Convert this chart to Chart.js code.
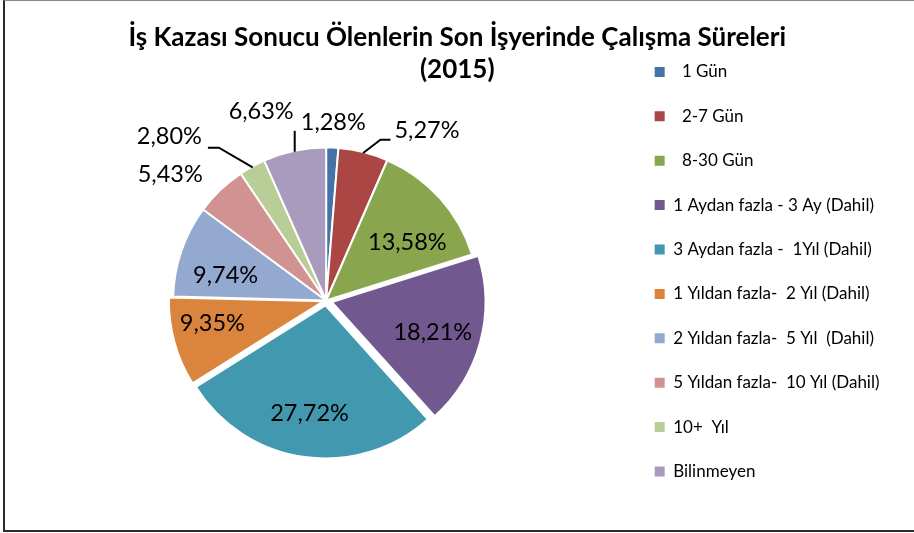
<!DOCTYPE html>
<html>
<head>
<meta charset="utf-8">
<script src="https://cdn.jsdelivr.net/npm/chart.js@4"></script>
<style>
html, body { margin: 0; padding: 0; background: #fff; overflow: hidden; }
#marco { position: absolute; left: 3px; top: 0; width: 940px; height: 529px;
         border: 2px solid #2b2b2b; border-top: 1px solid #8a8a8a; }
canvas { position: absolute; left: 0; top: 0; }
</style>
</head>
<body>
<div id="marco"></div>
<canvas id="chart" width="914" height="533"></canvas>
<script>
const categorias = [
    '  1 Gün',
    '  2-7 Gün',
    '  8-30 Gün',
    '1 Aydan fazla - 3 Ay (Dahil)',
    '3 Aydan fazla -  1Yıl (Dahil)',
    '1 Yıldan fazla-  2 Yıl (Dahil)',
    '2 Yıldan fazla-  5 Yıl  (Dahil)',
    '5 Yıldan fazla-  10 Yıl (Dahil)',
    '10+  Yıl',
    'Bilinmeyen'
];
const porcentajes = [1.28, 5.27, 13.58, 18.21, 27.72, 9.35, 9.74, 5.43, 2.80, 6.63];
const etiquetas = porcentajes.map(v => v.toFixed(2).replace('.', ',') + '%');
const colores = ['#4572A7', '#AA4643', '#89A54E', '#71588F', '#4198AF',
                 '#DB843D', '#93A9CF', '#D19392', '#B9CD96', '#A99BBD'];

// rotulos de porcentaje: f = fraccion del radio, dx/dy = ajuste, linea = guia
const rotulos = {
    id: 'rotulos',
    afterDatasetsDraw(chart, args, opts) {
        const ctx = chart.ctx;
        const meta = chart.getDatasetMeta(0);
        const ds = chart.data.datasets[0];
        ctx.save();
        ctx.font = opts.font;
        ctx.fillStyle = '#000';
        ctx.strokeStyle = '#000';
        ctx.lineWidth = 2;
        ctx.textAlign = 'center';
        ctx.textBaseline = 'middle';
        meta.data.forEach((arc, i) => {
            const p = opts.pos[i];
            const mid = (arc.startAngle + arc.endAngle) / 2;
            const off = (ds.offset[i] || 0) / 4;
            const cx = arc.x + Math.cos(mid) * off;
            const cy = arc.y + Math.sin(mid) * off;
            const r = arc.outerRadius;
            const x = cx + Math.cos(mid) * r * p.f + (p.dx || 0);
            const y = cy + Math.sin(mid) * r * p.f + (p.dy || 0);
            const txt = etiquetas[i];
            const w = ctx.measureText(txt).width;
            if (p.linea) {
                const ex = cx + Math.cos(mid) * (r - 1);
                const ey = cy + Math.sin(mid) * (r - 1);
                ctx.beginPath();
                ctx.moveTo(ex, ey);
                if (p.linea === 'arriba') {
                    ctx.lineTo(ex, y + 19);
                } else if (p.linea === 'izq') {
                    ctx.lineTo(x - w / 2 - 14, y + 9);
                    ctx.lineTo(x - w / 2 - 4, y + 9);
                } else {
                    ctx.lineTo(x + w / 2 + 17, y + 11);
                    ctx.lineTo(x + w / 2 + 6, y + 11);
                }
                ctx.stroke();
            }
            ctx.fillText(txt, x, y);
        });
        ctx.restore();
    }
};

let ctx = document.getElementById('chart');

let miGrafica = new Chart(ctx, {
    type: 'pie',
    data: {
        labels: categorias,
        datasets: [{
            data: porcentajes,
            backgroundColor: colores,
            borderColor: '#fff',
            borderWidth: 2,
            offset: [0, 0, 0, 24, 20, 12, 0, 0, 0, 0],
            radius: 153
        }]
    },
    options: {
        responsive: false,
        devicePixelRatio: 1,
        animation: false,
        layout: { padding: { top: 0, left: 25, right: 24.5, bottom: 20 } },
        plugins: {
            title: {
                display: true,
                text: ['İş Kazası Sonucu Ölenlerin Son İşyerinde Çalışma Süreleri', '(2015)'],
                color: '#000',
                font: { family: 'Lato', size: 26, weight: 'bold', lineHeight: 1.23 },
                padding: { top: 22, bottom: 2 }
            },
            legend: {
                position: 'right',
                weight: 3000,
                title: { display: true, text: ' ', padding: 8, font: { size: 12, lineHeight: 1.2 } },
                labels: {
                    boxWidth: 10,
                    boxHeight: 10,
                    padding: 27.4,
                    color: '#000',
                    font: { family: 'Lato', size: 17 },
                    generateLabels: chart => Chart.overrides.pie.plugins.legend.labels.generateLabels(chart)
                        .map(l => ({ ...l, strokeStyle: l.fillStyle, lineWidth: 0 }))
                }
            },
            tooltip: { enabled: false },
            rotulos: {
                font: '23.5px Lato',
                pos: [
                    { f: 1.163 },
                    { f: 1.15, dx: 58, dy: 1, linea: 'izq' },
                    { f: 0.67, dx: 5, dy: 11 },
                    { f: 0.67, dx: 2, dy: 3 },
                    { f: 0.71, dx: -1 },
                    { f: 0.765, dx: 2, dy: -9 },
                    { f: 0.75, dx: 8, dy: 12 },
                    { f: 1.2, dx: -29, dy: 7 },
                    { f: 1.2, dx: -68, dy: -3, linea: 'der' },
                    { f: 1.2, dx: -27, dy: -9, linea: 'arriba' }
                ]
            }
        }
    },
    plugins: [rotulos]
});
</script>
</body>
</html>
